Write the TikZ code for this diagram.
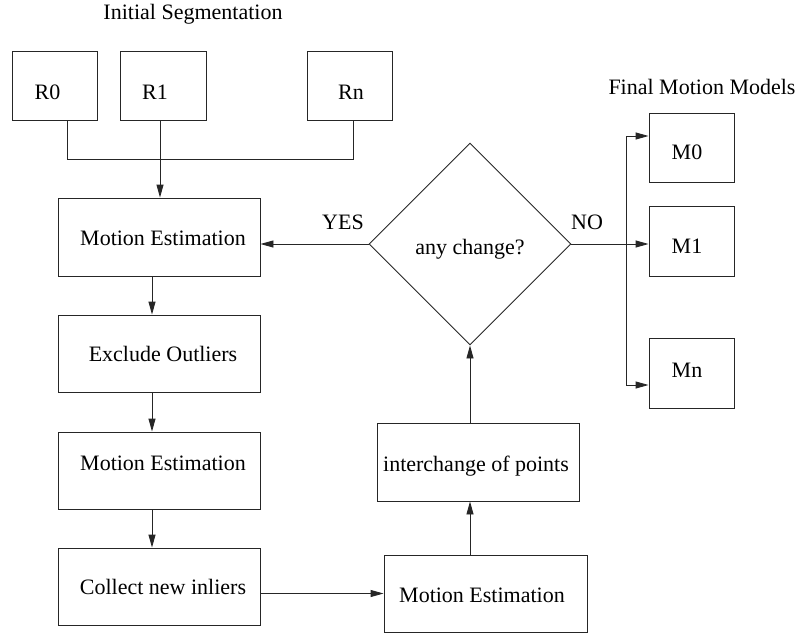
\documentclass[tikz,border=0pt]{standalone}
\usepackage{fontspec}
\setmainfont{Liberation Serif}
\usetikzlibrary{arrows.meta,shapes.geometric}
\begin{document}
\begin{tikzpicture}[x=1pt,y=-1pt,
  lw/.style={line width=0.9pt, draw=black!85},
  box/.style={lw, rectangle, inner sep=0pt},
  dia/.style={lw, diamond, aspect=1, minimum width=202pt, minimum height=202pt, inner sep=0pt},
  txt/.style={font=\fontsize{22}{26}\selectfont, inner sep=0pt, anchor=base},
  arr/.style={lw, -{Triangle[length=13pt,width=7pt]}},
  con/.style={lw}]
\useasboundingbox (0,0) rectangle (797,634);

% boxes
\node[box, minimum width=85pt, minimum height=69pt] (r0) at (54.5,85.5) {};
\node[box, minimum width=86pt, minimum height=69pt] (r1) at (163,85.5) {};
\node[box, minimum width=85pt, minimum height=69pt] (rn) at (349.5,85.5) {};
\node[box, minimum width=202pt, minimum height=78pt] (me1) at (159,237) {};
\node[box, minimum width=202pt, minimum height=77pt] (ex) at (159,353.5) {};
\node[box, minimum width=202pt, minimum height=77pt] (me2) at (159,470.5) {};
\node[box, minimum width=202pt, minimum height=77pt] (col) at (159,586.5) {};
\node[box, minimum width=202pt, minimum height=78pt] (int) at (478,462) {};
\node[box, minimum width=203pt, minimum height=77pt] (me3) at (485.5,593.5) {};
\node[dia] (dc) at (470,244) {};
\node[box, minimum width=85pt, minimum height=69pt] (m0) at (691.5,147.5) {};
\node[box, minimum width=85pt, minimum height=70pt] (m1) at (691.5,241) {};
\node[box, minimum width=85pt, minimum height=70pt] (mn) at (691.5,373) {};

% texts
\node[txt] (t-init) at (193,20) {Initial Segmentation};
\node[txt] (t-final) at (702,94) {Final Motion Models};
\node[txt] (t-r0) at (47.5,99) {R0};
\node[txt] (t-r1) at (155,99) {R1};
\node[txt] (t-rn) at (351,99) {Rn};
\node[txt] (t-me1) at (163,245) {Motion Estimation};
\node[txt] (t-ex) at (163,361) {Exclude Outliers};
\node[txt] (t-me2) at (163,470) {Motion Estimation};
\node[txt] (t-col) at (163,594) {Collect new inliers};
\node[txt] (t-int) at (476,471) {interchange of points};
\node[txt] (t-me3) at (482,602) {Motion Estimation};
\node[txt] (t-dc) at (470,254) {any change?};
\node[txt] (t-yes) at (343,229) {YES};
\node[txt] (t-no) at (587,229) {NO};
\node[txt] (t-m0) at (687,159) {M0};
\node[txt] (t-m1) at (687,253) {M1};
\node[txt] (t-mn) at (687,377) {Mn};

% helper coordinates
\coordinate (jl) at (67,159);
\coordinate (jm) at (160,159);
\coordinate (jr) at (353,159);
\coordinate (vx) at (152,0);
\coordinate (bx) at (626,244);
\coordinate (b0) at (626,136);
\coordinate (bn) at (626,385);

% connectors
\draw[con] (r0.south -| jl) -- (jl) -- (jr) -- (rn.south -| jr);
\draw[arr] (r1.south -| jm) -- (me1.north -| jm);
\draw[arr] (me1.south -| vx) -- (ex.north -| vx);
\draw[arr] (ex.south -| vx) -- (me2.north -| vx);
\draw[arr] (me2.south -| vx) -- (col.north -| vx);
\draw[arr] (col.east |- me3.west) -- (me3.west);
\draw[arr] (me3.north -| dc.south) -- (int.south -| dc.south);
\draw[arr] (int.north -| dc.south) -- (dc.south);
\draw[arr] (dc.west) -- (me1.east |- dc.west);
\draw[arr] (dc.east) -- (m1.west |- bx);
\draw[lw, {Triangle[length=13pt,width=7pt]}-{Triangle[length=13pt,width=7pt]}] (m0.west |- b0) -- (b0) -- (bn) -- (mn.west |- bn);
\end{tikzpicture}
\end{document}
